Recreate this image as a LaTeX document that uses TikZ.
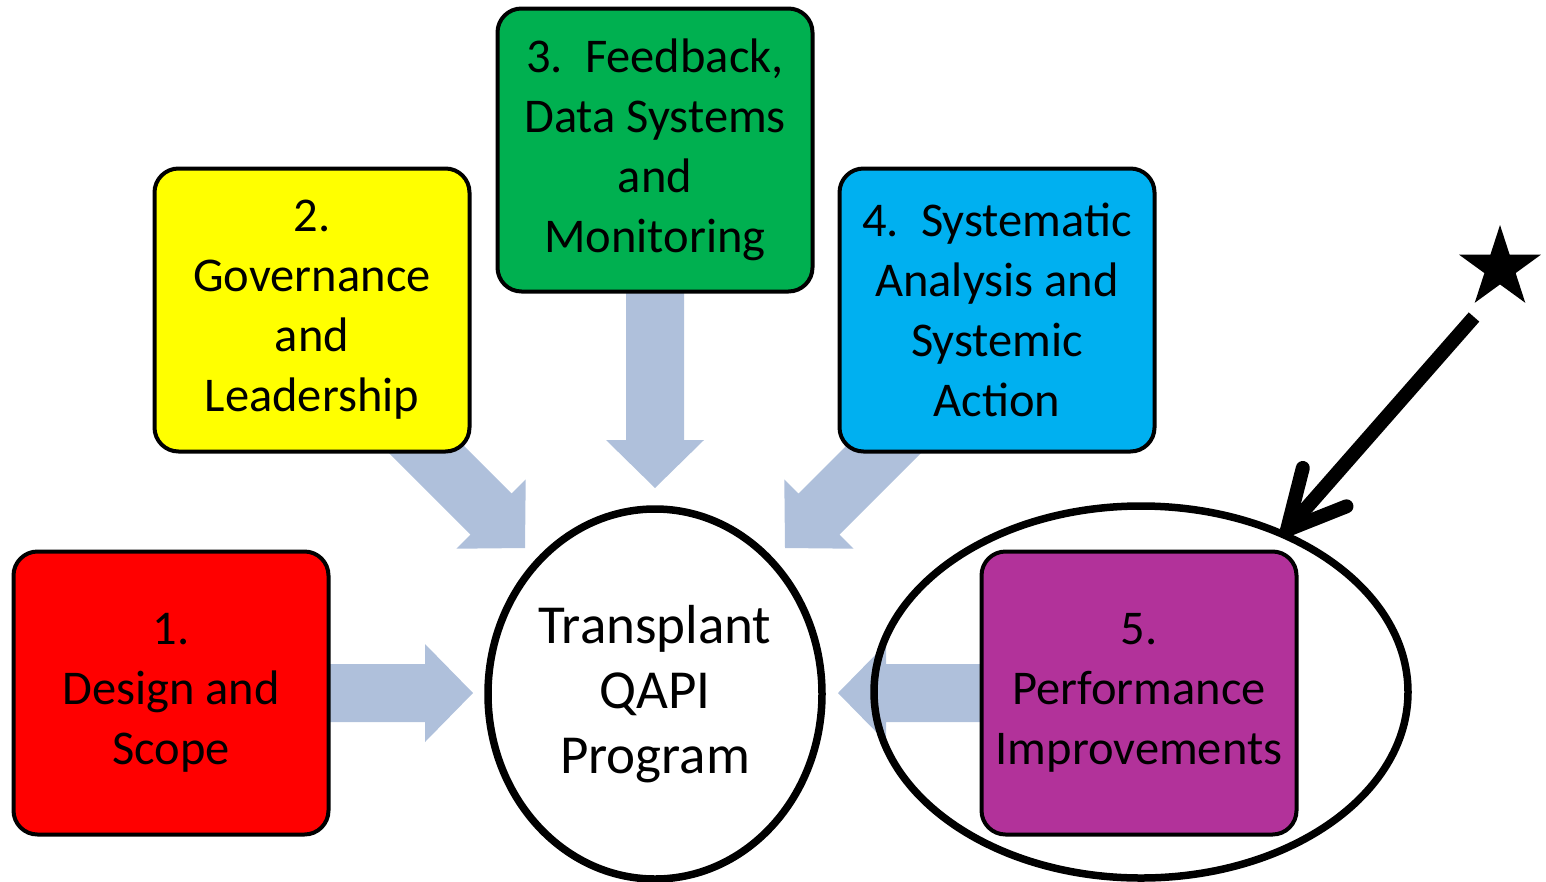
\documentclass[tikz,border=0pt]{standalone}
\usepackage{fontspec}
\setmainfont{Carlito}
\usetikzlibrary{shapes.geometric,calc}
\definecolor{arrfill}{HTML}{AFC0DB}
\definecolor{cred}{HTML}{FF0000}
\definecolor{cyellow}{HTML}{FFFF00}
\definecolor{cgreen}{HTML}{00B050}
\definecolor{cblue}{HTML}{00B0F0}
\definecolor{cpurple}{HTML}{B2329A}
\newcommand\blockarr[3]{%
  \begin{scope}[shift={(#1)},rotate=#2]
    \fill[arrfill] (0,0) -- (-48,49) -- (-48,29) -- (-#3,29) -- (-#3,-29) -- (-48,-29) -- (-48,-49) -- cycle;
  \end{scope}}
\begin{document}
\begin{tikzpicture}[x=1pt,y=-1pt,
  txt/.style={font=\fontsize{48.5}{60}\selectfont, align=center, text=black},
  box/.style={txt, draw=black, line width=4pt, rounded corners=24pt,
    minimum width=315pt, minimum height=283pt, inner sep=0pt},
  ring/.style={ellipse, draw=black, line width=7.5pt, inner sep=0pt}]
\useasboundingbox (0,0) rectangle (1546,881);
% tips of block arrows
\coordinate (t1) at (473,693);
\coordinate (t2) at (525,548);
\coordinate (t3) at (655,488);
\coordinate (t4) at (785,548);
\coordinate (t5) at (838,693);
\blockarr{t1}{0}{160}
\blockarr{t2}{-45}{165}
\blockarr{t3}{-90}{200}
\blockarr{t4}{-135}{165}
\blockarr{t5}{180}{160}
% boxes
\node[box, fill=cred]    (b1) at (171,693) {1.\\Design and\\Scope};
\node[box, fill=cyellow] (b2) at (312,310) {2.\\Governance\\and\\Leadership};
\node[box, fill=cgreen]  (b3) at (655,150) {3.\ \ Feedback,\\Data Systems\\and\\Monitoring};
\node[box, fill=cblue]   (b4) at (997,310) {4.\ \ Systematic\\Analysis and\\Systemic\\Action};
\node[box, fill=cpurple] (b5) at (1139,693) {5.\\Performance\\Improvements};
% centre
\node[ring, align=center, font=\fontsize{55}{65}\selectfont, minimum width=334pt, minimum height=370pt] (c) at (655,694) {Transplant\\QAPI\\Program};
% highlight ring
\node[ring, minimum width=534pt, minimum height=372pt] (big) at (1141,692) {};
% star and pointer
\node[star, star points=5, star point ratio=2.618, fill=black, inner sep=0pt, minimum size=86pt] (st) at (1500,268) {};
\coordinate (ls) at (1474,317);
\coordinate (tip) at (1287,530);
\draw[line width=14pt] (ls) -- ($(tip)!6pt!(ls)$);
\draw[line width=14pt, line cap=round, line join=round]
  ($(tip)!64pt!27:(ls)$) -- (tip) -- ($(tip)!64pt!-27:(ls)$);
\end{tikzpicture}
\end{document}
